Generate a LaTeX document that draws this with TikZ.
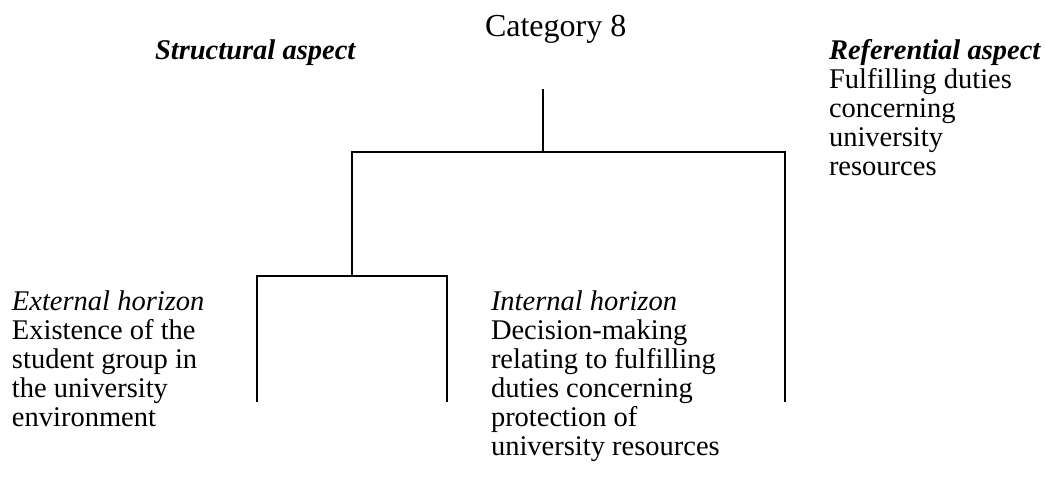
\documentclass[tikz,border=0pt]{standalone}
\usepackage{fontspec}
\setmainfont{Liberation Serif}
\newcommand{\firststrut}{\rule{0pt}{20pt}}
\begin{document}
\begin{tikzpicture}[x=1pt,y=-1pt,
  every node/.style={inner sep=0pt,outer sep=0pt},
  titletext/.style={anchor=base west,font=\fontsize{32}{36}\selectfont},
  headtext/.style={anchor=north west,font=\fontsize{28.5}{29}\selectfont\bfseries\itshape},
  blocktext/.style={anchor=north west,align=left,font=\fontsize{28.5}{29}\selectfont},
  branch/.style={line width=1.3pt,line cap=rect}]
  % page frame
  \useasboundingbox (0,0) rectangle (1045,482);

  % headings
  \node[titletext] (title) at (485,36) {Category 8};
  \node[headtext] (struct) at (155,39) {\firststrut Structural aspect};
  \node[blocktext] (ref) at (829,39)
    {\firststrut\textbf{\textit{Referential aspect}}\\
     Fulfilling duties\\ concerning\\ university\\ resources};
  \node[blocktext] (ext) at (12,290)
    {\firststrut\textit{External horizon}\\
     Existence of the\\ student group in\\ the university\\ environment};
  \node[blocktext] (int) at (491,290)
    {\firststrut\textit{Internal horizon}\\
     Decision-making\\ relating to fulfilling\\ duties concerning\\
     protection of\\ university resources};

  % tree joints and ends
  \coordinate (root) at (543,90);
  \coordinate (top) at (543,152);
  \coordinate (topL) at (352,152);
  \coordinate (topR) at (785,152);
  \coordinate (endR) at (785,401);
  \coordinate (mid) at (352,276);
  \coordinate (midL) at (257,276);
  \coordinate (midR) at (447,276);
  \coordinate (endL) at (257,401);
  \coordinate (endM) at (447,401);

  % tree
  \draw[branch] (root) -- (top);
  \draw[branch] (topL) -- (topR);
  \draw[branch] (topL) -- (mid);
  \draw[branch] (topR) -- (endR);
  \draw[branch] (midL) -- (midR);
  \draw[branch] (midL) -- (endL);
  \draw[branch] (midR) -- (endM);
\end{tikzpicture}
\end{document}
